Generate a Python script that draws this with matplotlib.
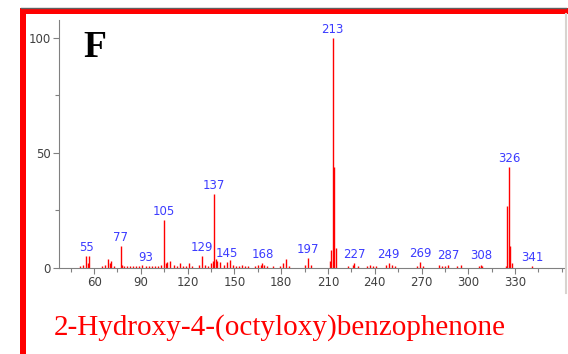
import matplotlib.pyplot as plt
from matplotlib.patches import Rectangle
from matplotlib.lines import Line2D

# mass spectrum: m/z and relative abundance
mz = [51, 53, 55, 56, 57, 65, 67, 69, 70, 71, 73, 77, 78, 79, 81, 83, 85, 87,
      89, 91, 93, 95, 97, 99, 101, 103, 105, 106, 107, 109, 111, 113, 115,
      117, 119, 121, 123, 127, 129, 131, 133, 135, 136, 137, 138, 139, 141,
      143, 145, 147, 149, 151, 153, 155, 157, 159, 163, 165, 167, 168, 169,
      171, 175, 179, 181, 183, 185, 195, 197, 199, 211, 212, 213, 214, 215,
      223, 226, 227, 229, 235, 237, 239, 241, 247, 249, 251, 253, 267, 269,
      271, 281, 283, 285, 287, 293, 295, 307, 308, 309, 324, 325, 326, 327,
      328, 341]
abund = [1, 1.5, 5, 2, 5, 1, 1.5, 4, 2, 3, 1, 9.5, 1.5, 1, 1, 1, 0.8, 1,
         0.7, 1.5, 1, 0.8, 1, 0.7, 1, 1.5, 21, 2, 2.5, 3, 1.5, 1, 2,
         1, 1, 2, 1, 1.5, 5, 1.5, 1, 2, 3, 32, 4, 3, 2.5,
         1.5, 2.5, 3.5, 1.5, 1, 1, 1.5, 1, 0.8, 1, 1.5, 1.5, 2, 1.5,
         1, 1, 1, 2, 4, 1, 1.5, 4.5, 1.5, 3, 8, 100, 44, 8.5,
         1, 1.5, 2, 1, 1, 1.5, 1, 1, 1.5, 2, 1.5, 1, 1, 2.5,
         1, 1.5, 1, 1, 1.5, 1, 1.5, 1, 1.5, 1, 1, 27, 44, 9.5,
         2, 1]
labelled = [55, 77, 93, 105, 129, 137, 145, 168, 197, 213, 227, 249, 269,
            287, 308, 326, 341]
xticks = [60, 90, 120, 150, 180, 210, 240, 270, 300, 330]
yticks = [0, 50, 100]
compound = "2-Hydroxy-4-(octyloxy)benzophenone"

fig = plt.figure(figsize=(5.68, 3.54), dpi=100)
W, H = 568, 354

# red frame and the grey edges of the spectrum window
fig.add_artist(Rectangle((20 / W, 0), 6 / W, 1 - 8 / H, transform=fig.transFigure,
                         color="red", lw=0))
fig.add_artist(Rectangle((20 / W, 1 - 14 / H), 548 / W, 6 / H,
                         transform=fig.transFigure, color="red", lw=0))
fig.add_artist(Line2D([21 / W, 566 / W], [1 - 7.5 / H, 1 - 7.5 / H],
                      transform=fig.transFigure, color="#606060", lw=1))
fig.add_artist(Line2D([565.5 / W, 565.5 / W], [1 - 14 / H, 1 - 293 / H],
                      transform=fig.transFigure, color="#d8d4d0", lw=1.5))

ax = fig.add_axes([59 / W, 1 - 268 / H, (565 - 59) / W, (268 - 20) / H])
ax.patch.set_alpha(0)
ax.vlines(mz, 0, abund, colors="red", lw=1.0)
for m in labelled:
    a = abund[mz.index(m)]
    ax.annotate(str(m), (m, a), xytext=(0, 1.5), textcoords="offset points",
                ha="center", va="bottom", color="#3c3cff", fontsize=8.5,
                clip_on=False)

ax.set_xlim(37.5, 362)
ax.set_ylim(0, 107.8)
ax.set_xticks(xticks)
ax.set_xticks(range(45, 361, 15), minor=True)
ax.set_yticks(yticks)
ax.set_yticks([25, 75], minor=True)
for s in ["top", "right"]:
    ax.spines[s].set_visible(False)
for s in ["left", "bottom"]:
    ax.spines[s].set_color("#808080")
ax.tick_params(colors="#808080", labelcolor="#404040", labelsize=8.5,
               length=4, width=0.8, pad=2)
ax.tick_params(which="minor", colors="#808080", length=3, width=0.8)

fig.text(83 / W, 1 - 57 / H, "F", fontsize=27, fontweight="bold",
         family="Liberation Serif", ha="left", va="baseline")
fig.text(280 / W, 1 - 335 / H, compound, fontsize=21, color="red",
         family="Liberation Serif", ha="center", va="baseline")

fig.savefig("out.png", dpi=100)
